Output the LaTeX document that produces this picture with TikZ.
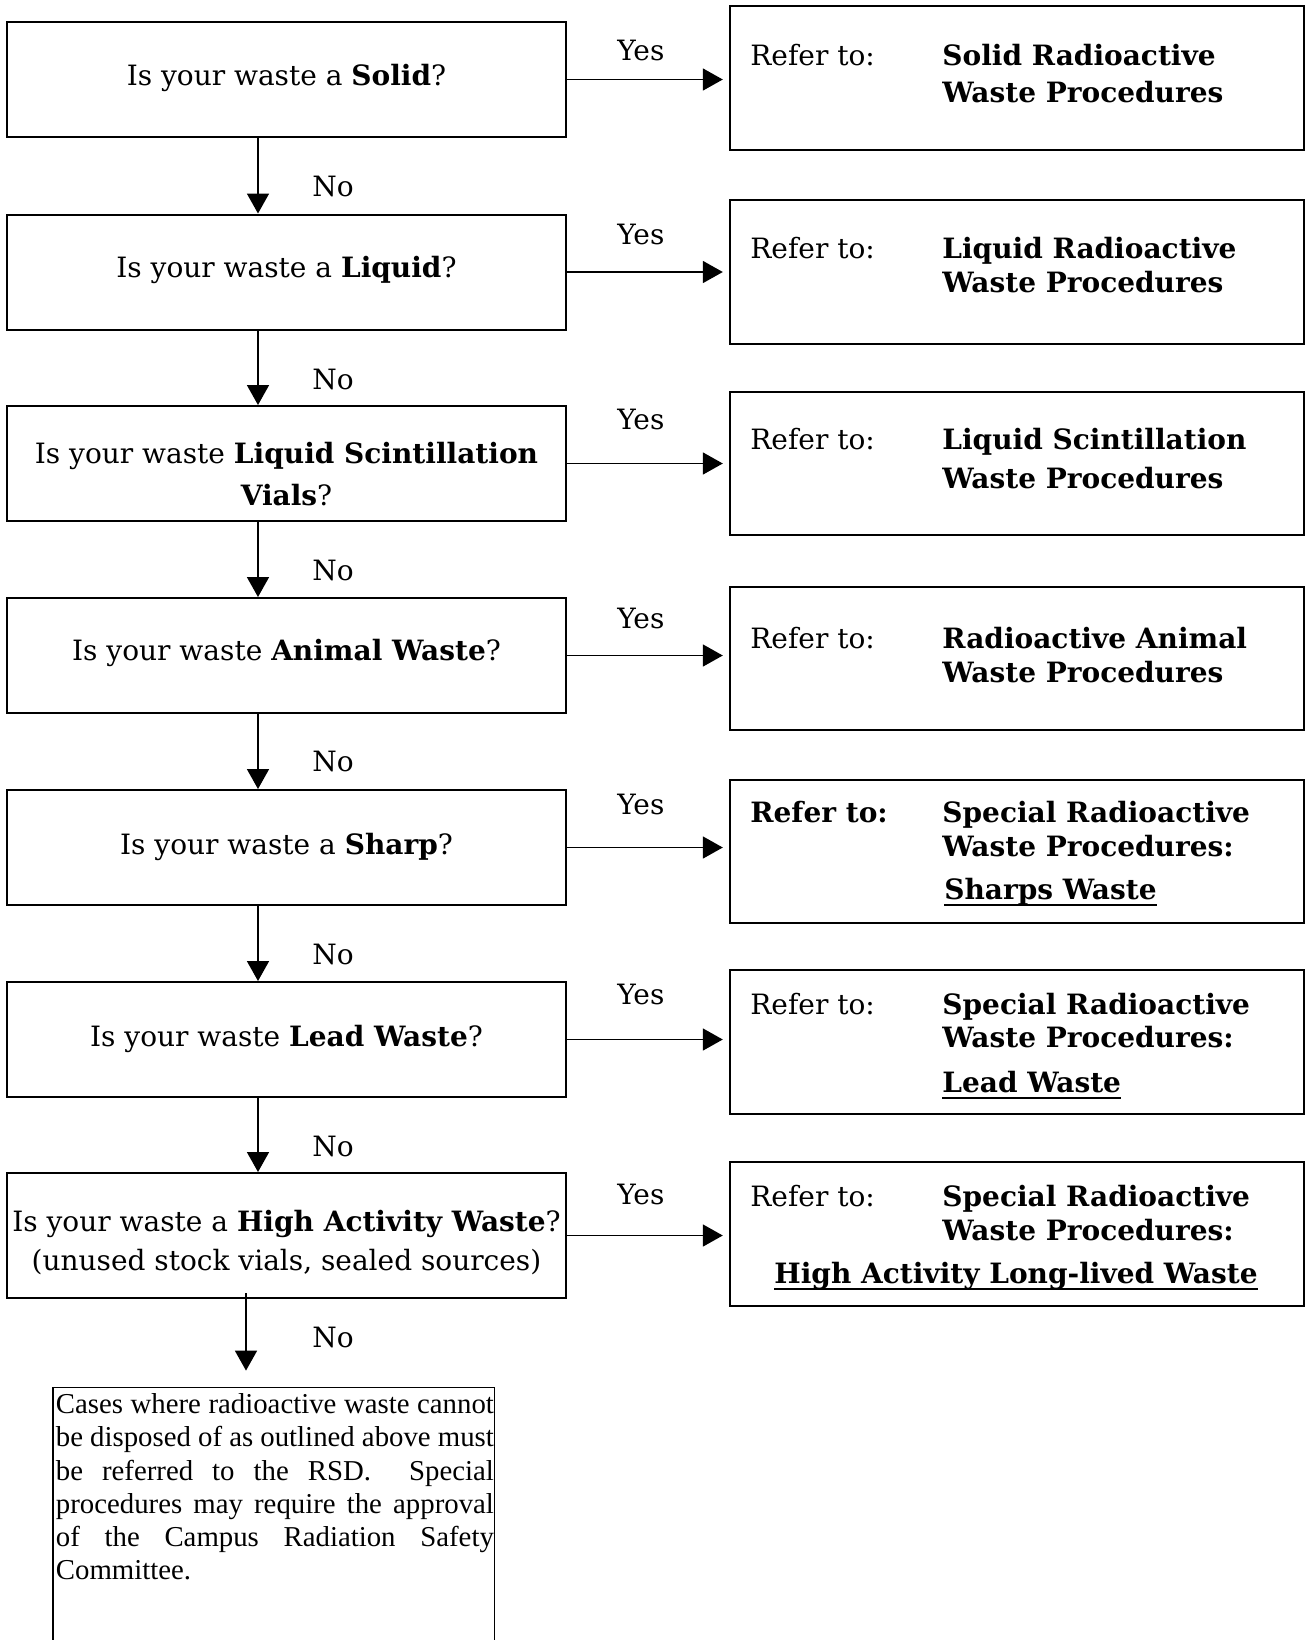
\documentclass[tikz,border=0pt]{standalone}
\usepackage{fontspec}
\setmainfont{DejaVu Serif}
\newfontfamily\timesf{Liberation Serif}
\usetikzlibrary{arrows.meta}
\newsavebox\ulbox
\newcommand\ulx[1]{\sbox\ulbox{#1}\rlap{\rule[-3.6pt]{\wd\ulbox}{1.1pt}}\usebox\ulbox}
\begin{document}
\begin{tikzpicture}[x=0.5pt,y=-0.5pt]
\tikzset{
 qbox/.style={draw, line width=1pt, minimum width=279.5pt, minimum height=57.5pt, inner sep=0pt},
 rbox/.style={draw, line width=1.2pt, minimum width=287pt, minimum height=72pt, inner sep=0pt},
 lbl/.style={font=\fontsize{14}{17}\selectfont, inner sep=0pt, anchor=base},
 lw/.style={lbl, anchor=base west},
 arr/.style={line width=0.85pt, -{Triangle[length=10pt,width=11pt]}},
 yarr/.style={arr, shorten >=3pt},
}
\useasboundingbox (0,0) rectangle (1305,1640);
\fill[white] (0,0) rectangle (1305,1640);

% question boxes
\node[qbox] (q1) at (286.5,79.5) {};
\node[qbox] (q2) at (286.5,272) {};
\node[qbox] (q3) at (286.5,463.5) {};
\node[qbox] (q4) at (286.5,655.5) {};
\node[qbox] (q5) at (286.5,847.5) {};
\node[qbox] (q6) at (286.5,1039.5) {};
\node[qbox, minimum height=62.5pt] (q7) at (286.5,1235.5) {};

\node[lbl] (q1t) at (286.5,85) {Is your waste a \textbf{Solid}?};
\node[lbl] (q2t) at (286.5,277) {Is your waste a \textbf{Liquid}?};
\node[lbl] (q3t) at (286.5,463.5) {Is your waste \textbf{Liquid Scintillation}};
\node[lbl] (q3u) at (286.5,505) {\textbf{Vials}?};
\node[lbl] (q4t) at (286.5,660) {Is your waste \textbf{Animal Waste}?};
\node[lbl] (q5t) at (286.5,854) {Is your waste a \textbf{Sharp}?};
\node[lbl] (q6t) at (286.5,1046) {Is your waste \textbf{Lead Waste}?};
\node[lbl] (q7t) at (286.5,1231) {Is your waste a \textbf{High Activity Waste}?};
\node[lbl] (q7u) at (286.5,1270) {(unused stock vials, sealed sources)};

% answer boxes
\node[rbox] (r1) at (1017,78) {};
\node[rbox] (r2) at (1017,272) {};
\node[rbox, minimum height=71.5pt] (r3) at (1017,463.5) {};
\node[rbox, minimum height=71.5pt] (r4) at (1017,658.5) {};
\node[rbox, minimum height=71.5pt] (r5) at (1017,851.5) {};
\node[rbox] (r6) at (1017,1042) {};
\node[rbox] (r7) at (1017,1234) {};

\node[lw] (r1a) at (750,65) {Refer to:};
\node[lw] (r1b) at (942,65) {\textbf{Solid Radioactive}};
\node[lw] (r1c) at (942,102) {\textbf{Waste Procedures}};

\node[lw] (r2a) at (750,258) {Refer to:};
\node[lw] (r2b) at (942,258) {\textbf{Liquid Radioactive}};
\node[lw] (r2c) at (942,292) {\textbf{Waste Procedures}};

\node[lw] (r3a) at (750,449.5) {Refer to:};
\node[lw] (r3b) at (942,449.5) {\textbf{Liquid Scintillation}};
\node[lw] (r3c) at (942,488) {\textbf{Waste Procedures}};

\node[lw] (r4a) at (750,648) {Refer to:};
\node[lw] (r4b) at (942,648) {\textbf{Radioactive Animal}};
\node[lw] (r4c) at (942,682) {\textbf{Waste Procedures}};

\node[lw] (r5a) at (750,822) {\textbf{Refer to:}};
\node[lw] (r5b) at (942,822) {\textbf{Special Radioactive}};
\node[lw] (r5c) at (942,856) {\textbf{Waste Procedures:}};
\node[lw] (r5d) at (944,899) {\textbf{\ulx{Sharps Waste}}};

\node[lw] (r6a) at (750,1014) {Refer to:};
\node[lw] (r6b) at (942,1014) {\textbf{Special Radioactive}};
\node[lw] (r6c) at (942,1047) {\textbf{Waste Procedures:}};
\node[lw] (r6d) at (942,1092) {\textbf{\ulx{Lead Waste}}};

\node[lw] (r7a) at (750,1206) {Refer to:};
\node[lw] (r7b) at (942,1206) {\textbf{Special Radioactive}};
\node[lw] (r7c) at (942,1240) {\textbf{Waste Procedures:}};
\node[lbl] (r7d) at (1016,1283) {\textbf{\ulx{High Activity Long-lived Waste}}};

% Yes arrows
\foreach \i in {1,...,7}{
  \draw[yarr] (q\i.east) -- (q\i.east -| r\i.west);
}
\node[lw] (y1) at (617,60) {Yes};
\node[lw] (y2) at (617,244) {Yes};
\node[lw] (y3) at (617,429) {Yes};
\node[lw] (y4) at (617,628) {Yes};
\node[lw] (y5) at (617,814) {Yes};
\node[lw] (y6) at (617,1004) {Yes};
\node[lw] (y7) at (617,1204) {Yes};

% No arrows
\foreach \i/\j in {1/2,2/3,3/4,4/5,5/6,6/7}{
  \draw[arr] ([xshift=-14.25pt]q\i.south) -- ([xshift=-14.25pt]q\j.north);
}
\node[lw] (n1) at (312,196) {No};
\node[lw] (n2) at (312,389) {No};
\node[lw] (n3) at (312,580) {No};
\node[lw] (n4) at (312,771) {No};
\node[lw] (n5) at (312,964) {No};
\node[lw] (n6) at (312,1156) {No};
\node[lw] (n7) at (312,1347) {No};

% final box (open at the bottom)
\node[minimum width=220.25pt, minimum height=128pt, inner sep=0pt] (fin) at (273.75,1516) {};
\draw[line width=0.8pt] (fin.south west) -- (fin.north west) -- (fin.north east) -- (fin.south east);
\draw[arr] ([xshift=-20.25pt,yshift=3pt]q7.south) -- ([xshift=-13.875pt,yshift=8.5pt]fin.north);
\node[anchor=north west, inner sep=0pt, text width=219pt, align=justify,
      font=\timesf\fontsize{14.4}{16.65}\selectfont] (fint) at (55.5,1393)
 {Cases where radioactive waste cannot\linebreak
  be disposed of as outlined above must\linebreak
  be referred to the RSD.\ \ Special\linebreak
  procedures may require the approval\linebreak
  of the Campus Radiation Safety\linebreak
  Committee.};
\end{tikzpicture}
\end{document}
